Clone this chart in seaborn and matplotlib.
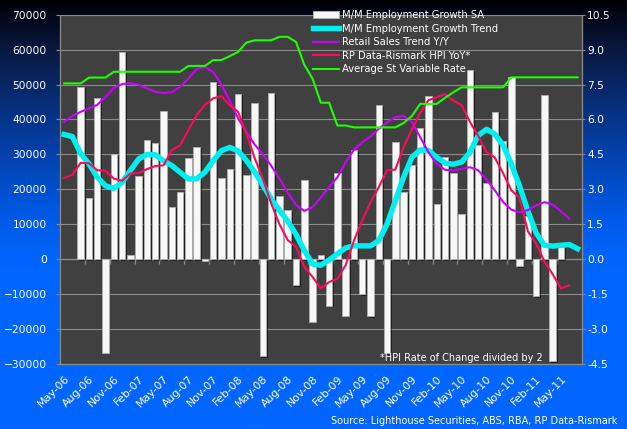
import numpy as np
import pandas as pd
import matplotlib
matplotlib.use("Agg")
import matplotlib.pyplot as plt
import seaborn as sns
from matplotlib.patches import Patch
from matplotlib.lines import Line2D
from matplotlib import patheffects as pe
from matplotlib.ticker import FormatStrFormatter

nan = np.nan

months = ["May-06", "Jun-06", "Jul-06", "Aug-06", "Sep-06", "Oct-06", "Nov-06", "Dec-06",
          "Jan-07", "Feb-07", "Mar-07", "Apr-07", "May-07", "Jun-07", "Jul-07", "Aug-07",
          "Sep-07", "Oct-07", "Nov-07", "Dec-07",
          "Jan-08", "Feb-08", "Mar-08", "Apr-08", "May-08", "Jun-08", "Jul-08", "Aug-08",
          "Sep-08", "Oct-08", "Nov-08", "Dec-08",
          "Jan-09", "Feb-09", "Mar-09", "Apr-09", "May-09", "Jun-09", "Jul-09", "Aug-09",
          "Sep-09", "Oct-09", "Nov-09", "Dec-09",
          "Jan-10", "Feb-10", "Mar-10", "Apr-10", "May-10", "Jun-10", "Jul-10", "Aug-10",
          "Sep-10", "Oct-10", "Nov-10", "Dec-10",
          "Jan-11", "Feb-11", "Mar-11", "Apr-11", "May-11", "Jun-11", "Jul-11"]

emp_growth_sa = [nan, nan,
                 49400, 17550, 46170, -26800, 30150, 59440, 1145, 23850, 34150, 33300,
                 42550, 15000, 19270, 29100, 32250, -400, 50850, 23280, 25850, 47400,
                 24140, 44740, -27670, 47600, 18130, 14120, -7350, 22700, -17840, 1150,
                 -13260, 24700, -16120, 31290, -9920, -16400, 44170, -26900, 33580, 19180,
                 27000, 37500, 46840, 15840, 29380, 24700, 12970, 54190, 32720, 21850,
                 42260, 33960, 52090, -1900, 12500, -10500, 47030, -29100, 3630,
                 nan, nan]

emp_growth_trend = [35700, 35100, 30200, 27300, 23500, 21000, 20300, 22000, 25400, 28700,
                    30000, 29900, 28200, 26800, 24900, 23000, 23000, 24900, 28200, 31100,
                    32000, 31000, 28300, 25000, 21200, 17300, 14000, 10900, 7100, 2500,
                    -1350, -1750, -200, 1530, 3240, 3820, 3820, 3820, 5340, 10100,
                    16800, 23500, 29200, 31300, 31100, 29200, 27500, 27200, 27800, 30600,
                    35400, 37200, 35850, 32700, 27300, 20900, 13800, 7500, 4000, 3750,
                    4000, 4200, 3000]

retail_sales_yy = [5.90, 6.15, 6.33, 6.48, 6.63, 6.97, 7.35, 7.52, 7.56, 7.49,
                   7.34, 7.19, 7.14, 7.17, 7.40, 7.75, 8.17, 8.25, 8.04, 7.50,
                   6.80, 6.05, 5.47, 4.93, 4.50, 4.02, 3.46, 2.87, 2.33, 2.07,
                   2.24, 2.65, 3.10, 3.52, 4.17, 4.70, 5.02, 5.27, 5.60, 5.88,
                   6.10, 6.15, 5.88, 5.24, 4.59, 4.09, 3.84, 3.81, 3.88, 3.95,
                   3.82, 3.42, 2.96, 2.46, 2.13, 2.01, 2.11, 2.31, 2.45, 2.35,
                   2.06, 1.74, nan]

hpi_yoy_half = [3.49, 3.63, 4.14, 4.12, 3.82, 3.80, 3.46, 3.37, 3.68, 3.70,
                3.87, 4.00, 4.03, 4.68, 4.89, 5.54, 6.18, 6.63, 6.91, 7.00,
                6.61, 6.33, 5.40, 4.35, 3.45, 2.40, 1.50, 0.82, 0.54, -0.33,
                -0.76, -1.25, -0.98, -0.84, -0.25, 0.80, 1.66, 2.45, 3.10, 3.82,
                3.85, 4.82, 5.58, 6.29, 6.83, 6.95, 7.09, 6.81, 6.61, 5.90,
                5.30, 4.60, 4.37, 3.70, 2.96, 2.63, 1.20, 0.67, -0.10, -0.65,
                -1.25, -1.12, nan]

std_variable_rate = [7.55, 7.55, 7.55, 7.80, 7.80, 7.80, 8.05, 8.05, 8.05, 8.05,
                     8.05, 8.05, 8.05, 8.05, 8.05, 8.30, 8.30, 8.30, 8.55, 8.55,
                     8.72, 8.90, 9.30, 9.40, 9.40, 9.40, 9.55, 9.55, 9.33, 8.35,
                     7.75, 6.72, 6.72, 5.74, 5.74, 5.66, 5.66, 5.66, 5.66, 5.66,
                     5.66, 5.85, 6.15, 6.67, 6.67, 6.67, 6.93, 7.17, 7.38, 7.38,
                     7.38, 7.38, 7.38, 7.38, 7.81, 7.81, 7.81, 7.81, 7.81, 7.81,
                     7.81, 7.81, 7.81]

left_ticks = [-30000, -20000, -10000, 0, 10000, 20000, 30000, 40000, 50000, 60000, 70000]
right_ticks = [-4.5, -3.0, -1.5, 0.0, 1.5, 3.0, 4.5, 6.0, 7.5, 9.0, 10.5]

series_labels = ["M/M Employment Growth SA", "M/M Employment Growth Trend",
                 "Retail Sales Trend Y/Y", "RP Data-Rismark HPI YoY*",
                 "Average St Variable Rate"]

df = pd.DataFrame({
    "month": months,
    "pos": np.arange(len(months)),
    "emp_sa": emp_growth_sa,
    "emp_trend": emp_growth_trend,
    "retail": retail_sales_yy,
    "hpi": hpi_yoy_half,
    "svr": std_variable_rate,
})

plt.rcParams["font.family"] = ["DejaVu Sans"]

W, H = 627, 429
fig = plt.figure(figsize=(W / 100, H / 100), dpi=100)

# background gradient (dark navy at top to bright blue)
bg = fig.add_axes([0, 0, 1, 1], zorder=0)
stops_y = np.array([0.0, 0.12, 0.30, 0.50, 0.62, 1.0])
stops_c = np.array([[0.00, 0.00, 0.02],
                    [0.04, 0.10, 0.26],
                    [0.02, 0.22, 0.58],
                    [0.00, 0.35, 0.90],
                    [0.00, 0.40, 1.00],
                    [0.00, 0.40, 1.00]])
yy = np.linspace(0, 1, 400)
grad = np.stack([np.interp(yy, stops_y, stops_c[:, k]) for k in range(3)], axis=1)
bg.imshow(grad[:, None, :], aspect="auto", extent=[0, 1, 0, 1], origin="upper")
bg.set_axis_off()

L, R, T, B = 60, 581.7, 14.7, 364
ax = fig.add_axes([L / W, (H - B) / H, (R - L) / W, (B - T) / H], zorder=1)
ax.set_facecolor("#404040")

grid_c = "#8c8c8c"
sns.barplot(data=df, x="month", y="emp_sa", order=months, color="#f7f7f7",
            saturation=1, width=0.78, edgecolor="#b0b0b0", linewidth=0.6,
            errorbar=None, ax=ax, zorder=2)
for p in ax.patches:
    p.set_path_effects([pe.SimplePatchShadow(offset=(1.2, -1.2), shadow_rgbFace="black", alpha=0.5),
                        pe.Normal()])

sns.lineplot(data=df, x="pos", y="emp_trend", color="#00f0f0", linewidth=3.9,
             ax=ax, zorder=3)

ax.set_xlim(-0.5, len(months) - 0.5)
ax.set_ylim(-30000, 70000)
ax.set_yticks(left_ticks)
ax.yaxis.grid(True, color=grid_c, linewidth=0.8)
ax.set_axisbelow(True)
ax.set_xticks(df["pos"][::3])
ax.set_xticklabels(months[::3], rotation=45, ha="right", rotation_mode="anchor",
                   color="white", fontsize=7.9)
ax.tick_params(axis="x", length=0, pad=7)
ax.tick_params(axis="y", colors="white", labelsize=7.7, length=3, color=grid_c, pad=6.5)
ax.set_xlabel("")
ax.set_ylabel("")
for s in ["left", "right", "bottom"]:
    ax.spines[s].set_color(grid_c)
    ax.spines[s].set_linewidth(0.9)
ax.spines["top"].set_visible(False)

# category axis crossing at zero with boundary tick marks
sec = ax.secondary_xaxis(0.3)
sec.set_xticks(np.arange(2.5, len(months) - 1, 3))
sec.set_xticklabels([])
sec.tick_params(length=3.5, direction="out", color=grid_c, width=0.9)
sec.spines["bottom"].set_color(grid_c)
sec.spines["bottom"].set_linewidth(0.9)

ax2 = ax.twinx()
sns.lineplot(data=df, x="pos", y="retail", color="#cc00ff", linewidth=1.5, ax=ax2)
sns.lineplot(data=df, x="pos", y="hpi", color="#ff0a5a", linewidth=1.5, ax=ax2)
sns.lineplot(data=df, x="pos", y="svr", color="#1eff00", linewidth=1.5, ax=ax2)
ax2.set_ylim(-4.5, 10.5)
ax2.set_yticks(right_ticks)
ax2.yaxis.set_major_formatter(FormatStrFormatter("%.1f"))
ax2.tick_params(axis="y", colors="white", labelsize=7.7, length=2.5, color=grid_c, pad=1.5)
ax2.set_ylabel("")
for s in ["left", "right", "bottom", "top"]:
    ax2.spines[s].set_visible(False)

handles = [Patch(facecolor="#f7f7f7", edgecolor="#b0b0b0", linewidth=0.6),
           Line2D([], [], color="#00f0f0", linewidth=3.9),
           Line2D([], [], color="#cc00ff", linewidth=1.5),
           Line2D([], [], color="#ff0a5a", linewidth=1.5),
           Line2D([], [], color="#1eff00", linewidth=1.5)]
ax2.legend(handles, series_labels, loc="upper left",
           bbox_to_anchor=(313 / W, 1 - 10 / H), bbox_transform=fig.transFigure,
           frameon=False, fontsize=7.2, labelcolor="white", handlelength=2.6,
           handleheight=0.6, handletextpad=0.35, labelspacing=0.36,
           borderpad=0, borderaxespad=0)

fig.text(543 / W, 1 - 361 / H, "*HPI Rate of Change divided by 2", ha="right",
         va="baseline", color="white", fontsize=7.0)
fig.text(617 / W, 1 - 421.5 / H, "Source: Lighthouse Securities, ABS, RBA, RP Data-Rismark",
         ha="right", va="center", color="white", fontsize=7.0)

fig.savefig("out.png", dpi=100)
